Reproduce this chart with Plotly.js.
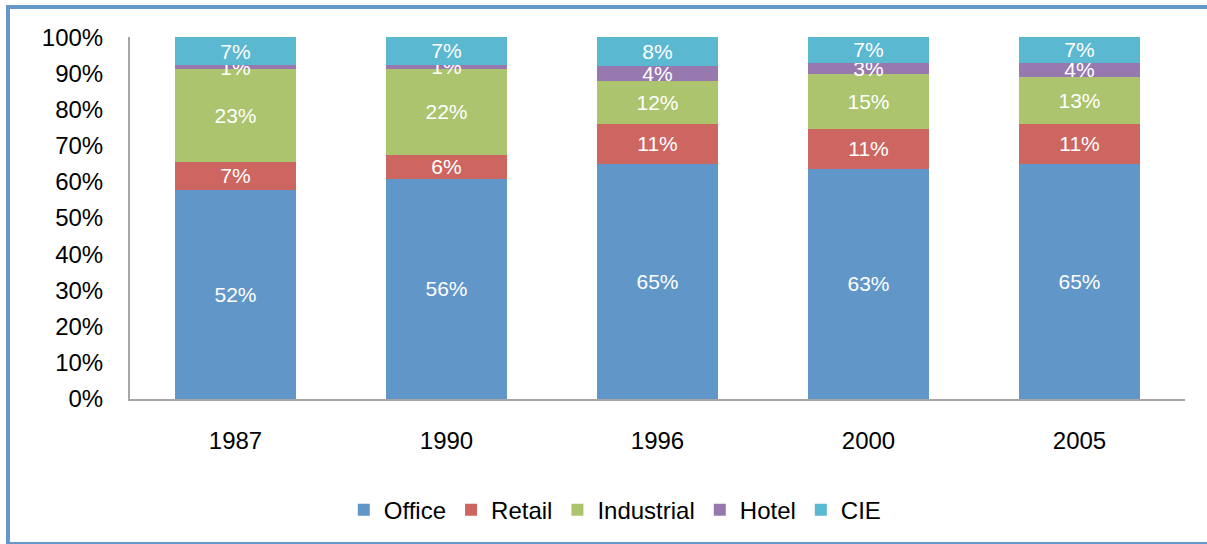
<!DOCTYPE html>
<html>
<head>
<meta charset="utf-8">
<script src="https://cdn.plot.ly/plotly-3.0.1.min.js"></script>
<style>
  html, body { margin: 0; padding: 0; background: #ffffff; overflow: hidden; }
  #chart { position: absolute; left: 0; top: 0; width: 1207px; height: 544px; }
  #frame { position: absolute; left: 6px; top: 5px; width: 1400px; height: 533px;
           border-left: 4px solid #6697cb; border-top: 4px solid #6697cb; border-bottom: 2px solid #6697cb;
           pointer-events: none; }
</style>
</head>
<body>
<div id="chart"></div>
<div id="frame"></div>
<script>
const years = ["1987", "1990", "1996", "2000", "2005"];
const office = [52, 56, 65, 63, 65];
const retail = [7, 6, 11, 11, 11];
const industrial = [23, 22, 12, 15, 13];
const hotel = [1, 1, 4, 3, 4];
const cie = [7, 7, 8, 7, 7];
const seriesNames = ["Office", "Retail", "Industrial", "Hotel", "CIE"];
const seriesColors = ["#6196c9", "#cd6660", "#abc46d", "#9779b0", "#5bb8d1"];
const yTickVals = [0, 10, 20, 30, 40, 50, 60, 70, 80, 90, 100];

const seriesValues = [office, retail, industrial, hotel, cie];
const traces = seriesValues.map((vals, i) => ({
  type: "bar",
  name: seriesNames[i],
  x: years,
  y: vals,
  text: vals.map(v => v + "%"),
  textposition: "inside",
  insidetextanchor: "middle",
  textangle: 0,
  constraintext: "none",
  cliponaxis: false,
  textfont: { family: "Liberation Sans, Arial, sans-serif", size: 21, color: "#ffffff" },
  marker: { color: seriesColors[i], line: { width: 0 } },
  hoverinfo: "none"
}));

const layout = {
  width: 1207,
  height: 544,
  barmode: "stack",
  barnorm: "percent",
  bargap: 0.43,
  margin: { l: 130, r: 22, t: 37, b: 145 },
  paper_bgcolor: "#ffffff",
  plot_bgcolor: "#ffffff",
  font: { family: "Liberation Sans, Arial, sans-serif", size: 24, color: "#000000" },
  showlegend: true,
  legend: {
    orientation: "h",
    x: 0.46, xanchor: "center",
    y: -0.307, yanchor: "middle",
    font: { size: 24, color: "#000000" },
    traceorder: "normal",
    itemclick: false
  },
  xaxis: {
    type: "category",
    showgrid: false,
    showline: true,
    linecolor: "#a6a6a6",
    linewidth: 2,
    ticks: "",
    ticklabelstandoff: 19,
    tickfont: { size: 24, color: "#000000" },
    zeroline: false
  },
  yaxis: {
    range: [0, 100.05],
    tickvals: yTickVals,
    ticktext: yTickVals.map(v => v + "%"),
    showgrid: false,
    showline: true,
    linecolor: "#a6a6a6",
    linewidth: 2,
    ticks: "",
    ticklabelstandoff: 20,
    tickfont: { size: 24, color: "#000000" },
    zeroline: false
  }
};

Plotly.newPlot("chart", traces, layout, { displayModeBar: false, staticPlot: true });
</script>
</body>
</html>
